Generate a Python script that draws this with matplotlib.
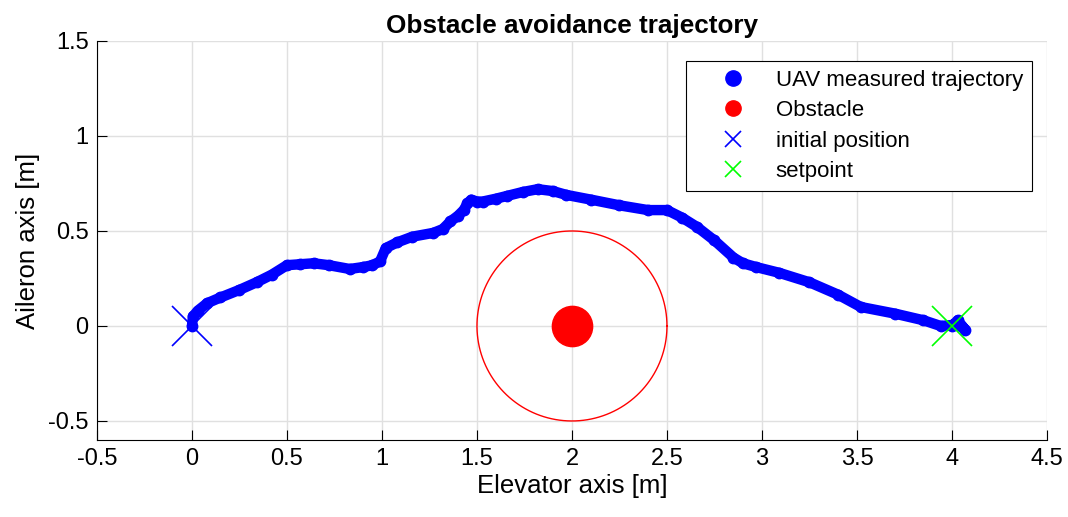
import matplotlib.pyplot as plt
import numpy as np

plt.rcParams['font.family'] = ['Liberation Sans', 'DejaVu Sans']

# measured UAV path [m]
traj_x = [0.0, 0.005, 0.03, 0.08, 0.15, 0.25, 0.34, 0.42, 0.5, 0.57, 0.64, 0.72,
          0.83, 0.9, 0.95, 0.99, 1.02, 1.08, 1.16, 1.27, 1.32, 1.36, 1.4, 1.43,
          1.45, 1.47, 1.5, 1.53, 1.6, 1.66, 1.74, 1.82, 1.9, 1.97, 2.1, 2.25,
          2.4, 2.5, 2.58, 2.66, 2.75, 2.85, 2.9, 2.97, 3.09, 3.25, 3.4, 3.52,
          3.7, 3.85, 3.94, 4.0, 4.05, 4.07, 4.03, 4.0]
traj_y = [0.0, 0.05, 0.08, 0.12, 0.15, 0.19, 0.23, 0.27, 0.32, 0.325, 0.33, 0.32,
          0.30, 0.31, 0.32, 0.34, 0.41, 0.44, 0.47, 0.49, 0.51, 0.55, 0.58, 0.61,
          0.645, 0.665, 0.655, 0.655, 0.67, 0.685, 0.705, 0.72, 0.71, 0.69, 0.665, 0.635,
          0.61, 0.61, 0.57, 0.52, 0.45, 0.36, 0.33, 0.31, 0.28, 0.23, 0.165, 0.10,
          0.065, 0.03, 0.0, 0.005, 0.0, -0.02, 0.03, 0.0]

obstacle = (2.0, 0.0)
safety_radius = 0.5
start = (0.0, 0.0)
setpoint = (4.0, 0.0)

fig, ax = plt.subplots(figsize=(10.68, 5.17), dpi=100)
fig.subplots_adjust(left=0.0908, right=0.9803, bottom=0.149, top=0.9207)

h1, = ax.plot(traj_x, traj_y, '-o', color='blue', lw=7.5, ms=7.5, mec='blue',
              solid_capstyle='round', solid_joinstyle='round',
              label='UAV measured trajectory')
h2, = ax.plot(*obstacle, 'o', color='red', ms=29, label='Obstacle')
th = np.linspace(0, 2 * np.pi, 300)
ax.plot(obstacle[0] + safety_radius * np.cos(th), obstacle[1] + safety_radius * np.sin(th),
        color='red', lw=1)
h3, = ax.plot(*start, 'x', color='blue', ms=29, mew=1.2, label='initial position')
h4, = ax.plot(*setpoint, 'x', color='#00ff00', ms=29, mew=1.2, label='setpoint')

ax.set_xlim(-0.5, 4.5)
ax.set_ylim(-0.6, 1.5)
ax.set_xticks(np.arange(-0.5, 4.51, 0.5))
ax.set_yticks(np.arange(-0.5, 1.51, 0.5))
ax.set_xticklabels(['-0.5', '0', '0.5', '1', '1.5', '2', '2.5', '3', '3.5', '4', '4.5'])
ax.set_yticklabels(['-0.5', '0', '0.5', '1', '1.5'])
ax.tick_params(direction='in', length=7, labelsize=17, width=0.8, pad=6)
ax.grid(True, color='#e0e0e0', lw=1)
ax.set_axisbelow(True)
ax.spines['top'].set_visible(False)
ax.spines['right'].set_visible(False)
ax.set_xlabel('Elevator axis [m]', fontsize=18.5, labelpad=3)
ax.set_ylabel('Aileron axis [m]', fontsize=18.5, labelpad=6)
ax.set_title('Obstacle avoidance trajectory', fontsize=18.8, fontweight='bold', pad=6)

leg = ax.legend(handles=[h1, h2, h3, h4], loc='upper right', bbox_to_anchor=(0.984, 0.95),
                borderaxespad=0, fontsize=16, fancybox=False, edgecolor='black',
                framealpha=1, handlelength=3.45, handletextpad=0.2,
                labelspacing=0.42, borderpad=0.4)
leg.get_frame().set_linewidth(0.8)
for h in leg.legend_handles:
    h.set_linestyle('None')
    h.set_markersize(11)

fig.savefig('out.png', dpi=100)
